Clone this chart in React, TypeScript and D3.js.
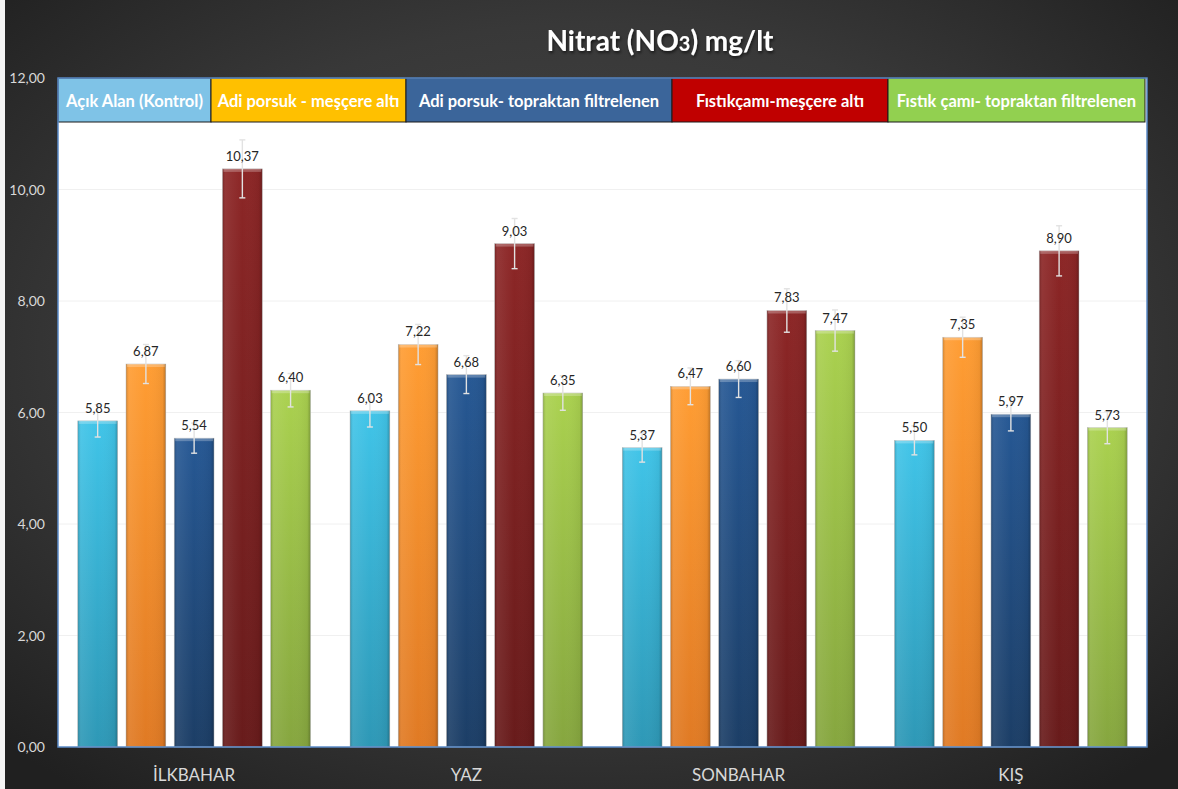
import React from 'react';
import * as d3 from 'd3';

// seasons on the x axis
const categories = ['İLKBAHAR', 'YAZ', 'SONBAHAR', 'KIŞ'];

const seriesNames = [
  'Açık Alan (Kontrol)',
  'Adi porsuk - meşçere altı',
  'Adi porsuk- topraktan filtrelenen',
  'Fıstıkçamı-meşçere altı',
  'Fıstık çamı- topraktan filtrelenen',
];

// mean values per series (one per season)
const acikAlan = [5.85, 6.03, 5.37, 5.5];
const adiPorsukMescere = [6.87, 7.22, 6.47, 7.35];
const adiPorsukToprak = [5.54, 6.68, 6.6, 5.97];
const fistikcamiMescere = [10.37, 9.03, 7.83, 8.9];
const fistikCamiToprak = [6.4, 6.35, 7.47, 5.73];

// error bar half-widths (estimated)
const acikAlanErr = [0.29, 0.29, 0.26, 0.26];
const adiPorsukMescereErr = [0.35, 0.36, 0.33, 0.36];
const adiPorsukToprakErr = [0.27, 0.34, 0.33, 0.3];
const fistikcamiMescereErr = [0.52, 0.45, 0.39, 0.45];
const fistikCamiToprakErr = [0.3, 0.31, 0.37, 0.29];

const yTicks = [0, 2, 4, 6, 8, 10, 12];

const seriesValues = [acikAlan, adiPorsukMescere, adiPorsukToprak, fistikcamiMescere, fistikCamiToprak];
const seriesErrors = [acikAlanErr, adiPorsukMescereErr, adiPorsukToprakErr, fistikcamiMescereErr, fistikCamiToprakErr];

// bar gradient colours (top, bottom) and legend fill colours
const barTop = ['#40c4e8', '#ff9d33', '#265894', '#8c2626', '#aad14f'];
const barBottom = ['#2e98b6', '#e07a24', '#1c3e66', '#681b1b', '#86a63f'];
const legendFill = ['#7fc3e7', '#ffc000', '#3b659a', '#c00000', '#92d050'];
const legendWidths = [153, 195, 266, 216, 257];

const W = 1178;
const H = 789;
const margin = { top: 78, right: 31, bottom: 42, left: 58 };
const FONT = 'Lato, "Open Sans", sans-serif';

const fmt = (v: number) => d3.format('.2f')(v).replace('.', ',');

const App = () => {
  const innerW = W - margin.left - margin.right;
  const innerH = H - margin.top - margin.bottom;

  const x0 = d3.scaleBand<string>().domain(categories).range([0, innerW]).padding(0);
  const x1 = d3
    .scaleBand<number>()
    .domain(d3.range(seriesNames.length))
    .range([0, x0.bandwidth()])
    .paddingInner(0.175)
    .paddingOuter(0.41);
  const y = d3.scaleLinear().domain([0, 12]).range([innerH, 0]);

  const legendX = d3.cumsum([0, ...legendWidths]);

  return (
    <svg width={W} height={H} style={{ position: 'absolute', left: 0, top: 0 }}>
      <defs>
        <radialGradient id="bg" cx="50%" cy="45%" r="70%">
          <stop offset="0%" stopColor="#4a4a4a" />
          <stop offset="60%" stopColor="#383838" />
          <stop offset="100%" stopColor="#202020" />
        </radialGradient>
        {seriesNames.map((_, i) => (
          <linearGradient key={i} id={`bar${i}`} x1="0" y1="0" x2="0" y2="1">
            <stop offset="0%" stopColor={barTop[i]} />
            <stop offset="100%" stopColor={barBottom[i]} />
          </linearGradient>
        ))}
        <linearGradient id="bevel" x1="0" y1="0" x2="1" y2="0">
          <stop offset="0%" stopColor="#000" stopOpacity={0.18} />
          <stop offset="8%" stopColor="#fff" stopOpacity={0.08} />
          <stop offset="50%" stopColor="#fff" stopOpacity={0} />
          <stop offset="92%" stopColor="#000" stopOpacity={0.05} />
          <stop offset="100%" stopColor="#000" stopOpacity={0.25} />
        </linearGradient>
        <filter id="shadow" x="-10%" y="-30%" width="120%" height="160%">
          <feDropShadow dx="1" dy="2" stdDeviation="1.5" floodColor="#000" floodOpacity="0.6" />
        </filter>
      </defs>

      <rect width={W} height={H} fill="url(#bg)" />
      <rect width={5} height={H} fill="#f4f4f4" />

      {/* title */}
      <text
        x={660}
        y={51}
        textAnchor="middle"
        fill="#fff"
        fontFamily={FONT}
        fontWeight="bold"
        fontSize={28}
        filter="url(#shadow)"
      >
        Nitrat (NO<tspan fontSize={20}>3</tspan>) mg/lt
      </text>

      <g transform={`translate(${margin.left},${margin.top})`}>
        <rect width={innerW} height={innerH} fill="#fff" />

        {/* faint gridlines */}
        {yTicks.slice(1, -1).map((t) => (
          <line key={t} x1={0} x2={innerW} y1={y(t)} y2={y(t)} stroke="#f0f0f0" />
        ))}

        {/* bars */}
        {categories.map((c, ci) => (
          <g key={c} transform={`translate(${x0(c)},0)`}>
            {seriesValues.map((vals, si) => {
              const v = vals[ci];
              const bx = x1(si)!;
              const bw = x1.bandwidth();
              return (
                <g key={si}>
                  <rect x={bx} y={y(v)} width={bw} height={innerH - y(v)} fill={`url(#bar${si})`} stroke="#c8c8c8" strokeWidth={0.6} />
                  <rect x={bx} y={y(v)} width={bw} height={innerH - y(v)} fill="url(#bevel)" />
                  <rect x={bx + 1} y={y(v)} width={bw - 2} height={3} fill="#fff" opacity={0.25} />
                </g>
              );
            })}
          </g>
        ))}

        {/* error bars */}
        {categories.map((c, ci) => (
          <g key={c} transform={`translate(${x0(c)},0)`}>
            {seriesValues.map((vals, si) => {
              const v = vals[ci];
              const e = seriesErrors[si][ci];
              const cx = x1(si)! + x1.bandwidth() / 2;
              return (
                <g key={si} stroke="#e2e2e2" strokeWidth={1.4}>
                  <line x1={cx} x2={cx} y1={y(v + e)} y2={y(v - e)} />
                  <line x1={cx - 3} x2={cx + 3} y1={y(v + e)} y2={y(v + e)} />
                  <line x1={cx - 3} x2={cx + 3} y1={y(v - e)} y2={y(v - e)} />
                </g>
              );
            })}
          </g>
        ))}

        {/* value labels */}
        {categories.map((c, ci) => (
          <g key={c} transform={`translate(${x0(c)},0)`}>
            {seriesValues.map((vals, si) => {
              const v = vals[ci];
              const cx = x1(si)! + x1.bandwidth() / 2;
              return (
                <text key={si} x={cx} y={y(v) - 8} textAnchor="middle" fontFamily={FONT} fontSize={13} fill="#262626">
                  {fmt(v)}
                </text>
              );
            })}
          </g>
        ))}

        {/* legend table */}
        {seriesNames.map((name, i) => (
          <g key={name} transform={`translate(${legendX[i]},0)`}>
            <rect width={legendWidths[i]} height={44} fill={legendFill[i]} stroke="#1a1a1a" strokeWidth={1} />
            <text
              x={legendWidths[i] / 2}
              y={28.5}
              textAnchor="middle"
              fill="#fff"
              fontFamily={FONT}
              fontWeight="bold"
              fontSize={16.5}
            >
              {name}
            </text>
          </g>
        ))}

        {/* plot border */}
        <rect width={innerW} height={innerH} fill="none" stroke="#5b8bc7" strokeWidth={1.5} />

        {/* y axis labels */}
        {yTicks.map((t) => (
          <text key={t} x={-13} y={y(t) + 5} textAnchor="end" fontFamily={FONT} fontSize={14} fill="#d8d8d8">
            {fmt(t)}
          </text>
        ))}

        {/* category labels */}
        {categories.map((c) => (
          <text
            key={c}
            x={x0(c)! + x0.bandwidth() / 2}
            y={innerH + 34}
            textAnchor="middle"
            fontFamily={FONT}
            fontSize={17}
            fill="#d8d8d8"
          >
            {c}
          </text>
        ))}
      </g>
    </svg>
  );
};

export default App;
